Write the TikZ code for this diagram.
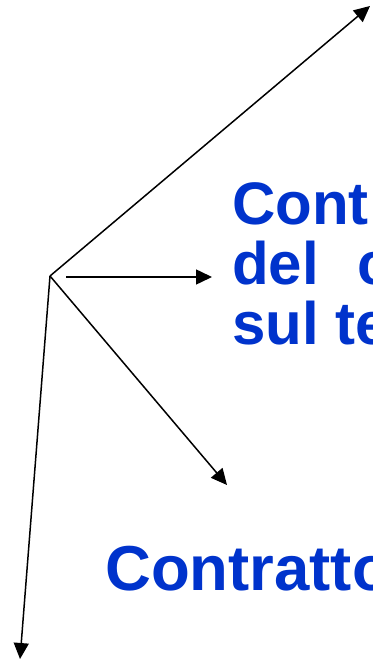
\documentclass[tikz,border=0pt]{standalone}
\usepackage{fontspec}
\setmainfont{Liberation Sans}
\usetikzlibrary{arrows.meta}
\definecolor{textblue}{RGB}{0,51,204}
\tikzset{
  label/.style={anchor=base west,inner sep=0pt,text=textblue,font=\fontsize{60}{60}\selectfont\bfseries},
  arrow/.style={-{Triangle[length=16pt,width=15pt]},line width=1.5pt}
}
\begin{document}
\begin{tikzpicture}[x=1pt,y=-1pt]
\useasboundingbox (0,0) rectangle (372,660);
\clip (0,0) rectangle (372,660);
\coordinate (O) at (50,276);
\coordinate (S) at (66,277);
\coordinate (A) at (370,6);
\coordinate (B) at (212,277);
\coordinate (C) at (227,485);
\coordinate (D) at (20,659);
\node (L1) at (232,224) [label]{Cont};
\node (L2) at (232,284) [label]{del\hspace{22pt} c};
\node (L3) at (232,344) [label]{sul te};
\node (L4) at (105,590) [label,font=\fontsize{63.5}{63.5}\selectfont\bfseries]{Contratto};
\draw [arrow] (O) to (A);
\draw [arrow] (S) to (B);
\draw [arrow] (O) to (C);
\draw [arrow] (O) to (D);
\end{tikzpicture}
\end{document}
